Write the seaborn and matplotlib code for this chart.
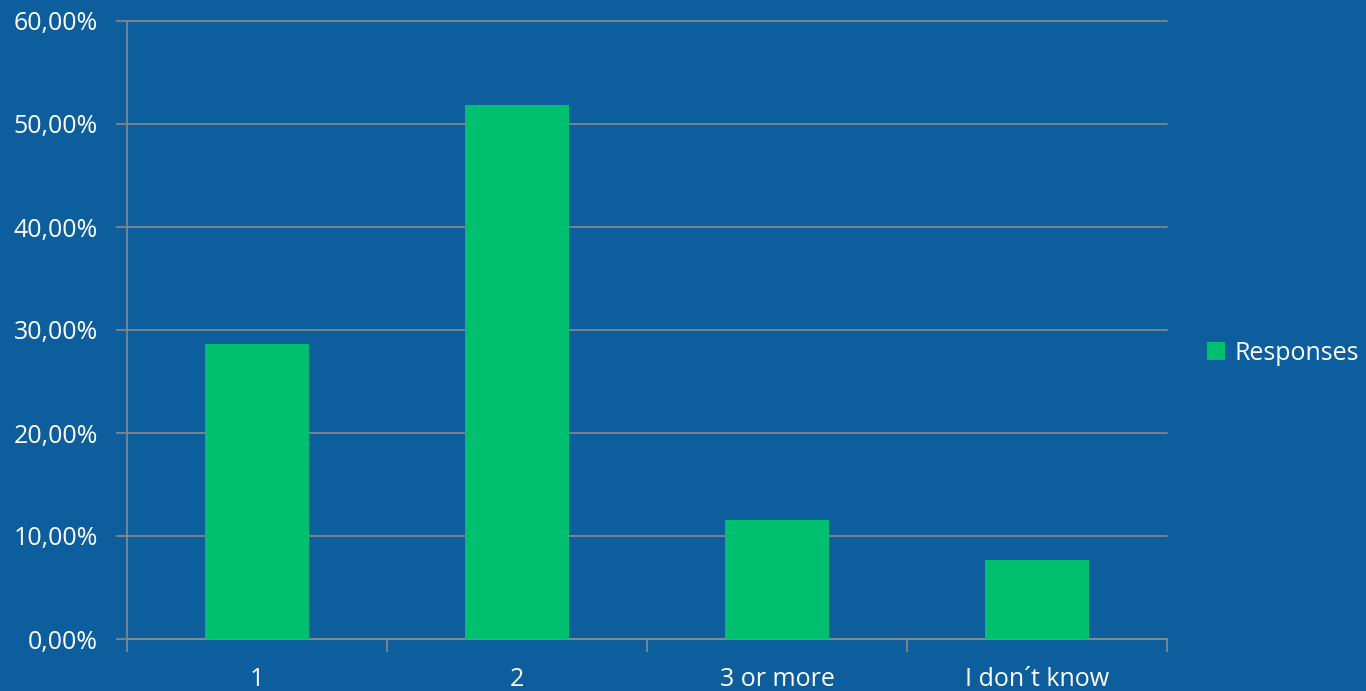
import matplotlib
matplotlib.use("Agg")
import matplotlib.pyplot as plt
import matplotlib.ticker as mticker
import numpy as np
import pandas as pd
import seaborn as sns

# --- Data ---
categories = ["1", "2", "3 or more", "I don\u00b4t know"]
responses = [0.286, 0.518, 0.116, 0.077]
series_name = "Responses"

bg = "#0D5E9D"
bar_color = "#00BF6F"
line_color = "#8A8A8A"

df = pd.DataFrame({"Answer": categories, "Share": responses, "Series": series_name})

sns.set_theme(style="white")
plt.rcParams["font.family"] = ["Open Sans", "DejaVu Sans"]

fig = plt.figure(figsize=(13.66, 6.91), dpi=100, facecolor=bg)
ax = fig.add_axes([127 / 1366, 52 / 691, 1040 / 1366, 618 / 691])
ax.set_facecolor(bg)

sns.barplot(data=df, x="Answer", y="Share", hue="Series", palette=[bar_color],
            width=0.4, saturation=1, linewidth=0, edgecolor=bar_color, ax=ax, zorder=3)

ax.set_xlim(-0.5, len(categories) - 0.5)
ax.set_ylim(0, 0.6)
ax.yaxis.set_major_locator(mticker.MultipleLocator(0.1))
ax.yaxis.set_major_formatter(mticker.FuncFormatter(lambda v, p: f"{v * 100:.2f}%".replace(".", ",")))

# gridlines (not clipped, so the 60% line shows fully)
ax.grid(axis="y", color=line_color, linewidth=1.2, zorder=0)
for gl in ax.get_ygridlines():
    gl.set_clip_on(False)
ax.set_axisbelow(True)

# spines
for side in ["top", "right"]:
    ax.spines[side].set_visible(False)
for side in ["left", "bottom"]:
    ax.spines[side].set_color(line_color)
    ax.spines[side].set_linewidth(1.2)

# category boundary ticks on x, label ticks hidden
ax.set_xticks(np.arange(-0.5, len(categories), 1.0), minor=True)
ax.tick_params(axis="x", which="major", length=0, pad=20, labelsize=18, colors="white")
ax.tick_params(axis="x", which="minor", length=9, width=1.2, color=line_color, direction="out")
ax.tick_params(axis="y", which="major", length=8, width=1.2, color=line_color, direction="out",
               labelsize=18, labelcolor="white", pad=13)
ax.xaxis.set_ticks_position("bottom")
ax.yaxis.set_ticks_position("left")

ax.set_xlabel("")
ax.set_ylabel("")

leg = ax.legend(loc="center left", bbox_to_anchor=(1.029, 0.462), frameon=False,
                fontsize=18, handlelength=0.7, handleheight=0.7, handletextpad=0.4,
                borderaxespad=0)
for t in leg.get_texts():
    t.set_color("white")
for h in leg.legend_handles:
    h.set_linewidth(0)

fig.savefig("out.png", dpi=100, facecolor=bg)
